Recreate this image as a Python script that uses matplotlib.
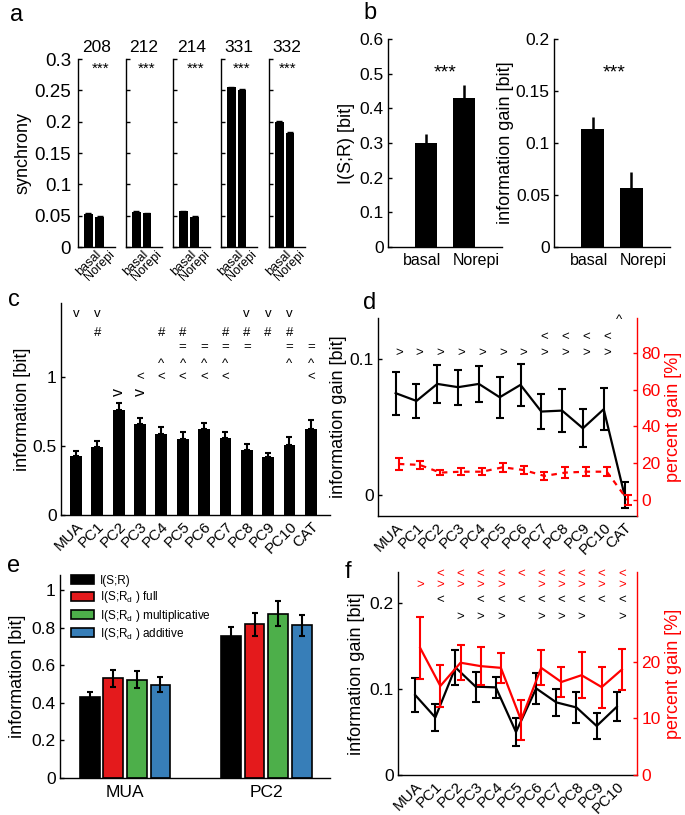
import matplotlib
matplotlib.use('Agg')
import matplotlib.pyplot as plt
import matplotlib.transforms as mtransforms
from matplotlib.ticker import FormatStrFormatter
import numpy as np

plt.rcParams['font.family'] = ['Liberation Sans', 'DejaVu Sans']
plt.rcParams['mathtext.default'] = 'regular'
plt.rcParams['xtick.direction'] = 'in'
plt.rcParams['ytick.direction'] = 'in'
plt.rcParams['axes.linewidth'] = 1.0

# --- DATA ---
# a: synchrony per recording
rec_ids = ['208', '212', '214', '331', '332']
sync_basal = [0.053, 0.056, 0.057, 0.255, 0.200]
sync_norepi = [0.048, 0.054, 0.048, 0.251, 0.182]
sync_err = [0.001, 0.001, 0.001, 0.001, 0.001]
conditions = ['basal', 'Norepi']

# b: information and information gain per condition
info_cond = [0.30, 0.43]
info_cond_err = [0.027, 0.037]
gain_cond = [0.113, 0.057]
gain_cond_err = [0.012, 0.015]

# c: information per feature
features = ['MUA', 'PC1', 'PC2', 'PC3', 'PC4', 'PC5', 'PC6', 'PC7', 'PC8',
            'PC9', 'PC10', 'CAT']
info_feat = [0.43, 0.495, 0.76, 0.66, 0.59, 0.553, 0.628, 0.556, 0.47,
             0.418, 0.505, 0.628]
info_feat_err = [0.034, 0.04, 0.05, 0.045, 0.05, 0.048, 0.043, 0.048, 0.048,
                 0.036, 0.058, 0.06]
# significance symbols -> feature indices
sig_c_v = [0, 1, 8, 9, 10]
sig_c_hash = [1, 4, 5, 7, 8, 9, 10]
sig_c_eq = [5, 6, 7, 8, 10, 11]
sig_c_caret = [4, 5, 6, 7, 10, 11]
sig_c_lt = [3, 4, 5, 6, 7, 11]
sig_c_gt = [2, 3]

# d: information gain and percent gain per feature
gain_feat = [0.0748, 0.0691, 0.0816, 0.0792, 0.0816, 0.0718, 0.0809, 0.0613,
             0.062, 0.049, 0.063, 0.0]
gain_feat_err = [0.0157, 0.0125, 0.0142, 0.0128, 0.0135, 0.015, 0.0154,
                 0.0128, 0.016, 0.014, 0.0154, 0.0093]
pct_feat = [19.6, 19.1, 14.9, 15.4, 15.4, 17.8, 16.3, 13.1, 14.9, 15.4, 15.4, 0.0]
pct_feat_err = [3.2, 2.0, 1.5, 1.8, 2.0, 2.3, 2.2, 2.0, 2.8, 2.3, 2.3, 2.5]
sig_d_gt = [0, 1, 2, 3, 4, 5, 6, 7, 8, 9, 10]
sig_d_lt = [7, 8, 9, 10]
sig_d_caret = [11]

# e: decoded information variants
e_groups = ['MUA', 'PC2']
e_labels = ['I(S;R)', 'I(S;R$_d$ ) full', 'I(S;R$_d$ ) multiplicative',
            'I(S;R$_d$ ) additive']
e_vals = [[0.43, 0.756], [0.53, 0.817], [0.524, 0.875], [0.497, 0.813]]
e_err = [[0.03, 0.045], [0.045, 0.06], [0.045, 0.065], [0.04, 0.055]]
e_colors = ['black', '#e41a1c', '#4daf4a', '#377eb8']

# f: gain per feature (second analysis)
features_f = features[:11]
gain_f = [0.093, 0.0669, 0.125, 0.1027, 0.1019, 0.05, 0.1007, 0.0844, 0.0785,
          0.057, 0.0793]
gain_f_err = [0.0197, 0.0156, 0.0206, 0.0175, 0.0124, 0.016, 0.018, 0.0156,
              0.018, 0.0156, 0.0167]
pct_f = [22.4, 15.7, 19.8, 19.2, 18.9, 9.7, 18.9, 16.4, 17.6, 15.5, 18.6]
pct_f_err = [5.4, 3.7, 3.1, 3.3, 2.6, 3.6, 3.1, 2.7, 4.1, 3.6, 3.6]
sig_f_red_lt = [1, 2, 3, 4, 5, 6, 7, 8, 9, 10]
sig_f_red_gt = [0, 1, 2, 3, 4, 6, 7, 8, 9, 10]
sig_f_blk_lt = [1, 3, 4, 5, 6, 7, 8, 9, 10]
sig_f_blk_gt = [2, 3, 4, 6, 7, 8, 10]

W, H = 685, 815
fig = plt.figure(figsize=(W / 100, H / 100), dpi=100)

TICK = 12.5
LAB = 13


def add_ax(x0, y0, x1, y1):
    return fig.add_axes([x0 / W, 1 - y1 / H, (x1 - x0) / W, (y1 - y0) / H])


def matlab_style(ax, size=TICK):
    ax.spines['top'].set_visible(False)
    ax.spines['right'].set_visible(False)
    ax.tick_params(length=3, width=1, labelsize=size, pad=3)


def rot_labels(ax, labels, size=11):
    ax.set_xticklabels(labels, rotation=45, ha='right', va='top',
                       rotation_mode='anchor', fontsize=size)


def cond_labels(ax, xs, labels, shifts_px):
    # condition names under the bars, nudged sideways as in the original
    ax.set_xticklabels([])
    for x, lab, dx in zip(xs, labels, shifts_px):
        off = mtransforms.ScaledTranslation(dx / 100, -6 / 100,
                                            fig.dpi_scale_trans)
        ax.text(x, 0, lab, ha='center', va='top', fontsize=11.5,
                transform=ax.get_xaxis_transform() + off)


def red_axis(ax2, ticks):
    ax2.set_yticks(ticks)
    for s in ['top', 'left', 'bottom']:
        ax2.spines[s].set_visible(False)
    ax2.spines['right'].set_color('red')
    ax2.tick_params(axis='y', colors='red', length=3, width=1,
                    labelsize=TICK, direction='in', pad=3)
    ax2.set_ylabel('percent gain [%]', color='red', fontsize=LAB, labelpad=3)


# --- a ---
a_x = [(78, 115), (126, 162), (173, 210), (221, 257), (269, 305)]
star_x = [2.1, 2.0, 2.1, 2.0, 1.8]
for i, (x0, x1) in enumerate(a_x):
    ax = add_ax(x0, 59, x1, 247)
    matlab_style(ax, 13.5)
    ax.tick_params(axis='y', pad=5)
    ax.bar([1, 2], [sync_basal[i], sync_norepi[i]], width=0.8, color='black')
    ax.errorbar([1, 2], [sync_basal[i], sync_norepi[i]], yerr=sync_err[i],
                fmt='none', ecolor='black', capsize=2, lw=1)
    ax.set_xlim(0.05, 3.4)
    ax.set_ylim(0, 0.3)
    ax.set_yticks(np.arange(0, 0.31, 0.05))
    ax.yaxis.set_major_formatter(FormatStrFormatter('%g'))
    if i > 0:
        ax.set_yticklabels([])
    ax.set_xticks([1, 2])
    ax.set_xticklabels(conditions, rotation=45, ha='center', fontsize=9)
    ax.tick_params(axis='x', pad=1)
    ax.set_title(rec_ids[i], fontsize=12.5, pad=5)
    ax.text(star_x[i], 0.284, '***', ha='center', va='center', fontsize=11)
    if i == 0:
        ax.set_ylabel('synchrony', fontsize=LAB, labelpad=2)

# --- b ---
ax = add_ax(388, 39, 502, 247)
matlab_style(ax)
ax.bar([1, 2], info_cond, width=0.6, color='black')
ax.errorbar([1, 2], info_cond, yerr=[[0, 0], info_cond_err], fmt='none',
            ecolor='black', capsize=0, lw=1.8)
ax.set_xlim(0, 3)
ax.set_ylim(0, 0.6)
ax.set_yticks(np.arange(0, 0.61, 0.1))
ax.yaxis.set_major_formatter(FormatStrFormatter('%g'))
ax.set_xticks([1, 2])
ax.tick_params(axis='x', length=0)
cond_labels(ax, [1, 2], conditions, [-4, 12])
ax.set_ylabel('I(S;R) [bit]', fontsize=LAB, labelpad=3)
ax.text(1.5, 0.502, '***', ha='center', va='center', fontsize=14)

ax = add_ax(554, 39, 670, 247)
matlab_style(ax)
ax.bar([1, 2], gain_cond, width=0.6, color='black')
ax.errorbar([1, 2], gain_cond, yerr=[[0, 0], gain_cond_err], fmt='none',
            ecolor='black', capsize=0, lw=1.8)
ax.set_xlim(0, 3)
ax.set_ylim(0, 0.2)
ax.set_yticks(np.arange(0, 0.21, 0.05))
ax.yaxis.set_major_formatter(FormatStrFormatter('%g'))
ax.set_xticks([1, 2])
ax.tick_params(axis='x', length=0)
cond_labels(ax, [1, 2], conditions, [-4, 12])
ax.set_ylabel('information gain [bit]', fontsize=LAB, labelpad=1)
ax.text(1.55, 0.1675, '***', ha='center', va='center', fontsize=14)

# --- c ---
pos = np.arange(1, len(features) + 1)
ax = add_ax(61, 303, 330, 515)
matlab_style(ax)
ax.bar(pos, info_feat, width=0.55, color='black')
ax.errorbar(pos, info_feat, yerr=[np.zeros(len(pos)), info_feat_err],
            fmt='none', ecolor='black', capsize=2.2, lw=1.5, capthick=1.5)
ax.set_xlim(0.3, 12.9)
ax.set_ylim(0, 1.54)
ax.set_yticks([0, 0.5, 1])
ax.yaxis.set_major_formatter(FormatStrFormatter('%g'))
ax.set_xticks(pos)
rot_labels(ax, features)
ax.tick_params(axis='x', length=0, pad=3)
ax.set_ylabel('information [bit]', fontsize=LAB, labelpad=1)
for idx_list, sym, lev in [(sig_c_v, 'v', 1.46), (sig_c_hash, '#', 1.32),
                           (sig_c_eq, '=', 1.22), (sig_c_caret, '^', 1.10),
                           (sig_c_lt, '<', 1.0)]:
    for k in idx_list:
        ax.text(pos[k], lev, sym, ha='center', va='center', fontsize=9.5)
for k in sig_c_gt:
    ax.text(pos[k], 0.89, 'v', ha='center', va='center', fontsize=11.5,
            rotation=90)

# --- d ---
ax = add_ax(378, 318, 637, 516)
matlab_style(ax)
ax.errorbar(pos, gain_feat, yerr=gain_feat_err, color='black', lw=1.6,
            capsize=3, capthick=1.5, elinewidth=1.5)
ax.set_xlim(0.15, 12.6)
ax.set_ylim(-0.0154, 0.130)
ax.set_yticks([0, 0.1])
ax.yaxis.set_major_formatter(FormatStrFormatter('%g'))
ax.set_xticks(pos)
rot_labels(ax, features)
ax.tick_params(axis='x', length=0, pad=3)
ax.set_ylabel('information gain [bit]', fontsize=LAB, labelpad=2)
for k in sig_d_gt:
    ax.text(pos[k] + 0.15, 0.1046, '>', ha='center', va='center', fontsize=9.5)
for k in sig_d_lt:
    ax.text(pos[k] + 0.15, 0.1164, '<', ha='center', va='center', fontsize=9.5)
for k in sig_d_caret:
    ax.text(pos[k] - 0.25, 0.1287, '^', ha='center', va='center', fontsize=9.5)
ax2 = ax.twinx()
ax2.errorbar(pos + 0.15, pct_feat, yerr=pct_feat_err, color='red', lw=1.6,
             ls=(0, (2.5, 2.5)), capsize=3, capthick=1.5, elinewidth=1.5)
ax2.set_ylim(-8.7, 99)
red_axis(ax2, [0, 20, 40, 60, 80])

# --- e ---
ax = add_ax(60, 575, 330, 778)
matlab_style(ax)
gpos = np.arange(1, len(e_groups) + 1)
for j in range(len(e_labels)):
    xj = gpos + (j - 1.5) * 0.167
    ax.bar(xj, e_vals[j], width=0.14, color=e_colors[j], edgecolor='black',
           lw=1.2, label=e_labels[j])
    ax.errorbar(xj, e_vals[j], yerr=e_err[j], fmt='none', ecolor='black',
                capsize=2, lw=1.5, capthick=1.5)
ax.set_xlim(0.54, 2.45)
ax.set_ylim(0, 1.08)
ax.set_yticks(np.arange(0, 1.01, 0.2))
ax.yaxis.set_major_formatter(FormatStrFormatter('%g'))
ax.set_xticks(gpos)
ax.set_xticklabels(e_groups, fontsize=12.5)
ax.tick_params(axis='x', length=0, pad=5)
ax.set_ylabel('information [bit]', fontsize=LAB, labelpad=4)
ax.legend(loc='upper left', frameon=False, fontsize=8.5, handlelength=1.9,
          handleheight=0.8, labelspacing=0.2, borderaxespad=0.1,
          handletextpad=0.5, bbox_to_anchor=(0.02, 1.03))

# --- f ---
posf = np.arange(1, len(features_f) + 1)
ax = add_ax(398, 572, 637, 775)
matlab_style(ax)
ax.errorbar(posf, gain_f, yerr=gain_f_err, color='black', lw=1.6,
            capsize=3, capthick=1.5, elinewidth=1.5)
ax.set_xlim(0.15, 12.0)
ax.set_ylim(0, 0.236)
ax.set_yticks([0, 0.1, 0.2])
ax.yaxis.set_major_formatter(FormatStrFormatter('%g'))
ax.set_xticks(posf)
rot_labels(ax, features_f)
ax.tick_params(axis='x', length=0, pad=3)
ax.set_ylabel('information gain [bit]', fontsize=LAB, labelpad=3)
for k in sig_f_red_lt:
    ax.text(posf[k] + 0.25, 0.234, '<', color='red', ha='center',
            va='center', fontsize=9.5)
for k in sig_f_red_gt:
    ax.text(posf[k] + 0.25, 0.2205, '>', color='red', ha='center',
            va='center', fontsize=9.5)
for k in sig_f_blk_lt:
    ax.text(posf[k] + 0.25, 0.203, '<', ha='center', va='center', fontsize=9.5)
for k in sig_f_blk_gt:
    ax.text(posf[k] + 0.25, 0.1836, '>', ha='center', va='center', fontsize=9.5)
ax2 = ax.twinx()
ax2.errorbar(posf + 0.25, pct_f, yerr=pct_f_err, color='red', lw=1.6,
             capsize=3, capthick=1.5, elinewidth=1.5)
ax2.set_ylim(0, 35.8)
red_axis(ax2, [0, 10, 20])

# --- panel letters ---
for letter, (lx, ly) in zip('abcdef', [(10, 15), (363, 13), (8, 300),
                                       (363, 303), (7, 566), (345, 572)]):
    fig.text(lx / W, 1 - ly / H, letter, fontsize=17, ha='left', va='center')

fig.savefig('out.png', dpi=100)
